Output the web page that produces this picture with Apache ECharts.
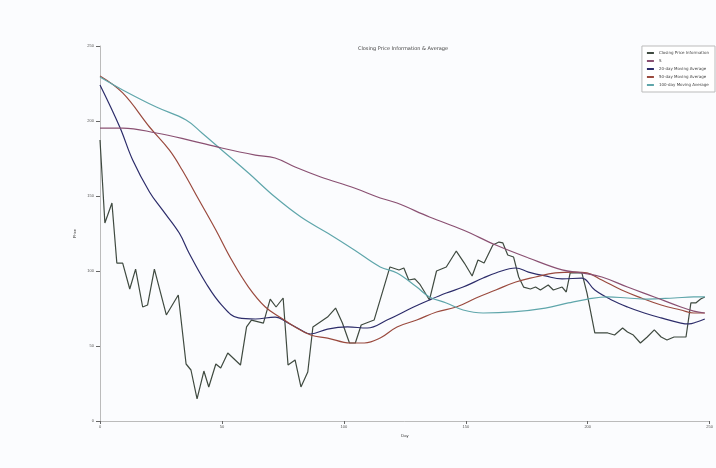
<!DOCTYPE html>
<html>
<head>
<meta charset="utf-8">
<script src="https://cdn.jsdelivr.net/npm/echarts@6/dist/echarts.min.js"></script>
<style>html,body{margin:0;padding:0;background:#fbfcfe;}#c{width:716px;height:468px;}</style>
</head>
<body>
<div id="c"></div>
<script>
const titleText = "Closing Price Information & Average";
const seriesNames = ["Closing Price Information", "S", "20-day Moving Average", "50-day Moving Average", "100-day Moving Average"];
const xTicks = [0, 50, 100, 150, 200, 250];
const yTicks = [0, 50, 100, 150, 200, 250];

const priceDays = [0,2.0,4.9,6.9,9.3,12.2,14.6,17.5,19.5,22.3,27.2,32.1,35.3,37.3,39.8,42.6,44.6,47.5,49.5,52.4,57.6,60.1,62.1,67.0,69.8,72.2,75.1,77.1,80.0,82.4,85.2,87.3,93.3,96.6,99.4,102.3,104.7,107.1,112.4,118.9,122.6,124.6,126.6,129.1,131.1,135.1,138.0,142.0,146.1,149.4,152.6,155.0,157.5,161.1,163.6,165.2,167.2,169.6,171.7,173.7,176.5,178.6,180.6,183.8,185.9,189.5,191.2,192.8,197.6,199.7,202.9,208.2,211.0,214.3,216.3,218.7,221.6,224.4,227.3,230.1,232.5,235.4,240.3,242.3,244.3,246.3,248.0];
const priceVals = [187.3,132,145.3,105.3,105.3,88,101.3,76,77.3,101.3,70.7,84,38,34,14.7,33.3,22.7,38,35.3,45.3,37.3,62.7,67.3,65.3,81.3,76,82,37.3,40.7,22.7,32.7,62.7,69.3,75.3,65.3,52,52,64,67.3,102.7,100.7,102,94,94.7,91.3,80.7,100,102.7,113.3,105.3,96.7,107.3,105.3,117.3,119.3,118.7,110.7,109.3,96,89.3,88,89.3,87.3,90.7,87.3,89.3,86,98.7,98.7,85.3,58.7,58.7,57.3,62,59.3,57.3,52,56,60.7,56,54,56,56,78.7,78.7,81.3,82.7];

const ma20Days = [0,8.1,13.4,20.3,25.6,32.5,36.5,43.4,49.9,56.8,63.7,71.8,77.1,82.4,86.4,93.3,101.5,109.6,117.7,128.6,135.1,142.0,148.9,157.1,162.3,170.5,175.7,182.6,189.5,197.6,202.9,209.8,216.3,223.2,230.1,238.2,241.5,244.7,248.0];
const ma20Vals = [224,196,174,152.7,140.7,125.3,112,92,77.3,68.7,68,69.3,65.3,60.7,58,61.3,62.7,62,67.3,76,80.7,85.3,89.3,95.3,98.7,102,99.3,96.7,94.7,95.3,87.3,80.7,76,72,68.7,65.3,64.7,66,68];

const ma50Days = [0,9.3,20.3,28.4,33.7,40.6,47.5,54.0,60.9,67.8,74.3,80.0,86.4,93.3,102.7,108.4,114.9,121.8,129.9,138.0,146.1,154.2,162.3,170.5,178.6,186.7,194.8,199.7,205.8,213.9,222.0,230.1,238.2,243.5,248.0];
const ma50Vals = [230,218.7,196,180.7,167.3,147.3,127.3,107.3,89.3,76,68.7,62.7,57.3,55.3,52,52,55.3,62.7,67.3,72.7,76,82,87.3,92.7,96,98.7,99.3,98.7,94,87.3,82,77.3,74,72,72];

const ma100Days = [0,9.3,23.1,35.3,41.8,49.9,60.9,71.8,82.4,93.3,104.3,114.9,121.8,129.9,135.1,142.0,148.9,157.1,169.2,182.6,192.0,200.1,208.2,216.3,224.4,235.4,243.5,248.0];
const ma100Vals = [229.3,220.7,209.3,200.7,192,180.7,165.3,149.3,136,125.3,114,102.7,98.7,89.3,82.7,78.7,74,72,72.7,75.3,78.7,81.3,82.7,82,81.3,82,82.7,82.7];

const ma200Days = [0,9.3,23.1,36.5,49.9,63.7,71.8,80.0,90.5,104.3,114.9,121.8,135.1,148.9,162.3,175.7,189.5,197.6,205.8,216.3,227.3,238.2,243.5,248.0];
const ma200Vals = [195.3,195.3,192,187.3,182,177.3,175.3,169.3,162.7,155.3,148.7,145.3,136,127.3,117.3,108.7,100.7,98.7,96,89.3,82.7,76,73.3,72];

function pairs(xs, ys) { return xs.map((x, i) => [x, ys[i]]); }

const chart = echarts.init(document.getElementById('c'));
const lineSeries = [
  { name: seriesNames[0], data: pairs(priceDays, priceVals), color: "#3f4a40", smooth: false },
  { name: seriesNames[2], data: pairs(ma20Days, ma20Vals), color: "#2c2c6a", smooth: 0.4 },
  { name: seriesNames[3], data: pairs(ma50Days, ma50Vals), color: "#9a4a3e", smooth: 0.4 },
  { name: seriesNames[4], data: pairs(ma100Days, ma100Vals), color: "#5fa6ab", smooth: 0.4 },
  { name: seriesNames[1], data: pairs(ma200Days, ma200Vals), color: "#8a5072", smooth: 0.4 }
];
chart.setOption({
  backgroundColor: '#fbfcfe',
  animation: false,
  title: { text: titleText, left: 398, top: 41, textAlign: 'center',
    textStyle: { fontSize: 5, fontWeight: 'normal', color: '#444', fontFamily: 'DejaVu Sans' } },
  legend: {
    orient: 'vertical', right: 1, top: 46, itemWidth: 7, itemHeight: 2, itemGap: 4,
    padding: [5, 6, 5, 5], borderColor: '#bbb', borderWidth: 1, backgroundColor: '#fff',
    textStyle: { fontSize: 4, color: '#444', fontFamily: 'DejaVu Sans' },
    icon: 'rect',
    data: [seriesNames[0], seriesNames[1], seriesNames[2], seriesNames[3], seriesNames[4]]
  },
  grid: { left: 100, top: 46, width: 616, height: 375, containLabel: false },
  xAxis: {
    type: 'value', min: 0, max: 250, interval: 50, name: 'Day', nameLocation: 'middle', nameGap: 12,
    nameTextStyle: { fontSize: 4, color: '#333' },
    axisLine: { show: true, lineStyle: { color: '#bbb', width: 1 } },
    axisTick: { show: true, length: 3, lineStyle: { color: '#666' } },
    axisLabel: { fontSize: 4, color: '#555', margin: 4, formatter: v => xTicks.includes(v) ? String(v) : '' },
    splitLine: { show: false }
  },
  yAxis: {
    type: 'value', min: 0, max: 250, interval: 50, name: 'Price', nameLocation: 'middle', nameGap: 22,
    nameTextStyle: { fontSize: 4, color: '#333' },
    axisLine: { show: true, lineStyle: { color: '#bbb', width: 1 } },
    axisTick: { show: true, length: 4, lineStyle: { color: '#666' } },
    axisLabel: { fontSize: 4, color: '#555', margin: 6, formatter: v => yTicks.includes(v) ? String(v) : '' },
    splitLine: { show: false }
  },
  series: lineSeries.map(s => ({
    name: s.name, type: 'line', data: s.data, showSymbol: false, smooth: s.smooth,
    itemStyle: { color: s.color }, lineStyle: { color: s.color, width: 1.2 }
  }))
});
</script>
</body>
</html>
